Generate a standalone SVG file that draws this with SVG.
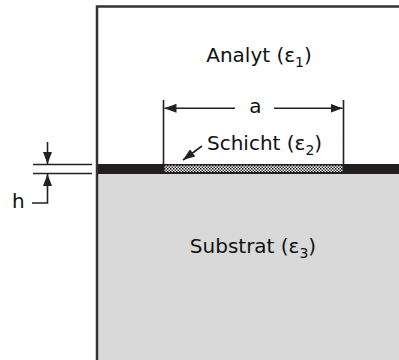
<svg xmlns="http://www.w3.org/2000/svg" width="399" height="360" viewBox="0 0 399 360">
<style>
.t{font-family:"DejaVu Sans",Verdana,sans-serif;font-size:20px;fill:#111}
.sub{font-size:14px}
.ln{stroke:#222;stroke-width:1.6;fill:none}
.bd{stroke:#333;stroke-width:2.5;fill:none}
</style>
<defs>
<pattern id="dots" width="3" height="3" patternUnits="userSpaceOnUse" x="164" y="165">
<rect width="3" height="3" fill="#fff"/>
<rect x="0" y="0" width="1.5" height="1.5" fill="#111"/>
<rect x="1.5" y="1.5" width="1.5" height="1.5" fill="#333"/>
</pattern>
<marker id="ah" viewBox="0 0 12 9" refX="12" refY="4.5" markerWidth="12" markerHeight="9" markerUnits="userSpaceOnUse" orient="auto">
<path d="M0,0 L12,4.5 L0,9 z" fill="#222"/>
</marker>
</defs>
<g id="analyt">
<rect x="97" y="6.5" width="302" height="158" fill="#fff"/>
<text class="t" x="259" y="62" text-anchor="middle">Analyt (ε<tspan class="sub" dy="5">1</tspan><tspan dy="-5">)</tspan></text>
</g>
<g id="substrat">
<rect x="97" y="174" width="302" height="186" fill="#d9d9d9"/>
<text class="t" x="253" y="253" text-anchor="middle">Substrat (ε<tspan class="sub" dy="5">3</tspan><tspan dy="-5">)</tspan></text>
</g>
<g id="film">
<rect x="97" y="164" width="302" height="10" fill="#221e1f"/>
</g>
<g id="schicht">
<rect x="164.5" y="165.5" width="178" height="6.5" fill="url(#dots)"/>
<text class="t" x="207" y="150">Schicht (ε<tspan class="sub" dy="5">2</tspan><tspan dy="-5">)</tspan></text>
</g>
<g id="border">
<path class="bd" d="M97,360 V6.5 H399"/>
</g>
<g id="connectors">
<path class="ln" d="M163.5,100 V164 M343.5,100 V164"/>
<path class="ln" d="M235,108.3 H164.5" marker-end="url(#ah)"/>
<path class="ln" d="M274,108.3 H342.5" marker-end="url(#ah)"/>
<text class="t" x="255.5" y="112.7" text-anchor="middle">a</text>
<path class="ln" d="M202,146 L183,160" marker-end="url(#ah)"/>
<path class="ln" d="M33,164.5 H92 M33,173.5 H92"/>
<path class="ln" d="M47.5,142 V164" marker-end="url(#ah)"/>
<path class="ln" d="M32,203 H47.5 V174" marker-end="url(#ah)"/>
<text class="t" x="12" y="208">h</text>
</g>
</svg>
